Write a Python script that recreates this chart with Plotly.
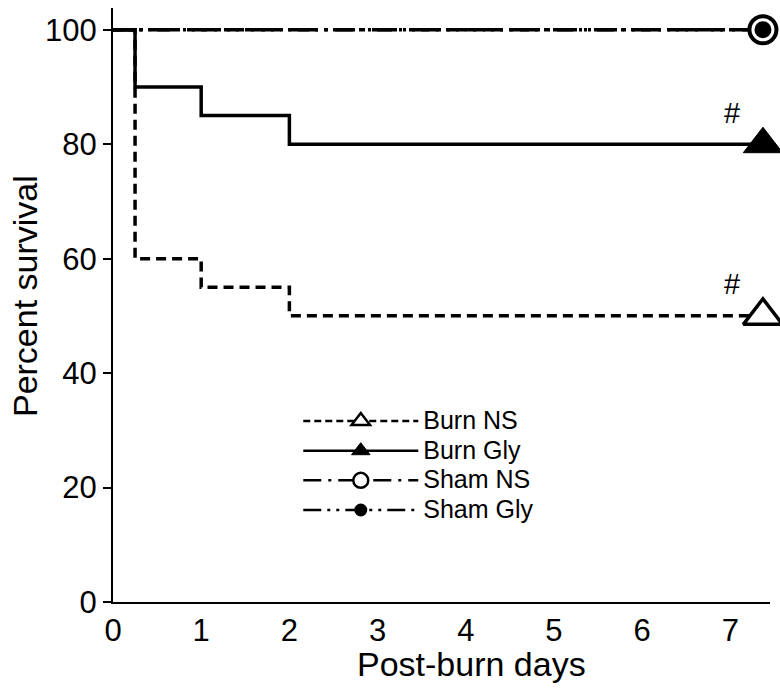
import plotly.graph_objects as go

# Data
burn_ns_x = [0, 0.25, 1, 2, 7.37]
burn_ns_y = [100, 60, 55, 50, 50]
burn_gly_x = [0, 0.25, 1, 2, 7.37]
burn_gly_y = [100, 90, 85, 80, 80]
sham_ns_x = [0, 7.37]
sham_ns_y = [100, 100]
sham_gly_x = [0, 7.37]
sham_gly_y = [100, 100]
x_ticks = [0, 1, 2, 3, 4, 5, 6, 7]
y_ticks = [0, 20, 40, 60, 80, 100]

FONT = "Liberation Sans, Arial, sans-serif"
LW = 3.5

series = [
    dict(name="Burn NS", x=burn_ns_x, y=burn_ns_y, dash="10px,6px", ldash="7px,4px",
         symbol="triangle-up", size=34, lsize=20, mlw=3.5, fill="white"),
    dict(name="Burn Gly", x=burn_gly_x, y=burn_gly_y, dash="solid", ldash="solid",
         symbol="triangle-up", size=34, lsize=20, mlw=1, fill="black"),
    dict(name="Sham NS", x=sham_ns_x, y=sham_ns_y, dash="20px,7px,3px,7px", ldash="18px,7px,3px,7px",
         symbol="circle", size=27, lsize=15, mlw=4, fill="white"),
    dict(name="Sham Gly", x=sham_gly_x, y=sham_gly_y, dash="20px,6px,3px,6px,3px,6px",
         ldash="18px,6px,3px,6px,3px,6px",
         symbol="circle", size=17, lsize=13, mlw=0, fill="black"),
]

fig = go.Figure()
for s in series:
    fig.add_trace(go.Scatter(
        x=s["x"], y=s["y"], mode="lines", line=dict(shape="hv", color="black", width=LW, dash=s["dash"]),
        showlegend=False, hoverinfo="skip"))
for s in series:
    fig.add_trace(go.Scatter(
        x=[s["x"][-1]], y=[s["y"][-1]], mode="markers", cliponaxis=False,
        marker=dict(symbol=s["symbol"], size=s["size"], color=s["fill"],
                    line=dict(color="black", width=s["mlw"])),
        showlegend=False, hoverinfo="skip"))
for s in series:
    fig.add_trace(go.Scatter(
        x=[None], y=[None], mode="lines+markers",
        name='<span style="font-size:25px">' + s["name"] + "</span>",
        line=dict(color="black", width=2.5, dash=s["ldash"]),
        marker=dict(symbol=s["symbol"], size=s["lsize"], color=s["fill"],
                    line=dict(color="black", width=min(s["mlw"], 2.5)))))

fig.add_annotation(x=burn_gly_x[-1] - 0.35, y=burn_gly_y[-1] + 5.5, text="#", showarrow=False,
                   font=dict(size=29, color="black", family=FONT))
fig.add_annotation(x=burn_ns_x[-1] - 0.35, y=burn_ns_y[-1] + 5.5, text="#", showarrow=False,
                   font=dict(size=29, color="black", family=FONT))

# axis titles
fig.add_annotation(x=0.545, y=-0.105, xref="paper", yref="paper", yanchor="middle", text="Post-burn days",
                   showarrow=False, font=dict(size=34, color="black", family=FONT))
fig.add_annotation(x=-0.134, y=0.515, xref="paper", yref="paper", xanchor="center", yanchor="middle",
                   text="Percent survival", textangle=-90, showarrow=False,
                   font=dict(size=34, color="black", family=FONT))

fig.update_layout(
    width=780, height=688,
    margin=dict(l=113, r=10, t=8, b=86, autoexpand=False),
    paper_bgcolor="white", plot_bgcolor="white",
    font=dict(family=FONT, color="black"),
    showlegend=True,
    legend=dict(x=0.282, y=0.338, xanchor="left", yanchor="top", bgcolor="rgba(0,0,0,0)",
                font=dict(size=20.5, family=FONT), itemwidth=115, tracegroupgap=0),
    xaxis=dict(range=[0, 7.45], tickvals=x_ticks, ticks="", showgrid=False, zeroline=False,
               showline=True, linecolor="black", linewidth=2, automargin=False,
               tickfont=dict(size=31)),
    yaxis=dict(range=[0, 103.8], tickvals=y_ticks, ticks="outside", ticklen=8, tickwidth=2,
               tickcolor="black", showgrid=False, zeroline=False, automargin=False,
               showline=True, linecolor="black", linewidth=2,
               tickfont=dict(size=31)),
)

fig.write_html("out.html", config={"displayModeBar": False},
               post_script="document.body.style.margin='0px';document.body.style.overflow='hidden';")
